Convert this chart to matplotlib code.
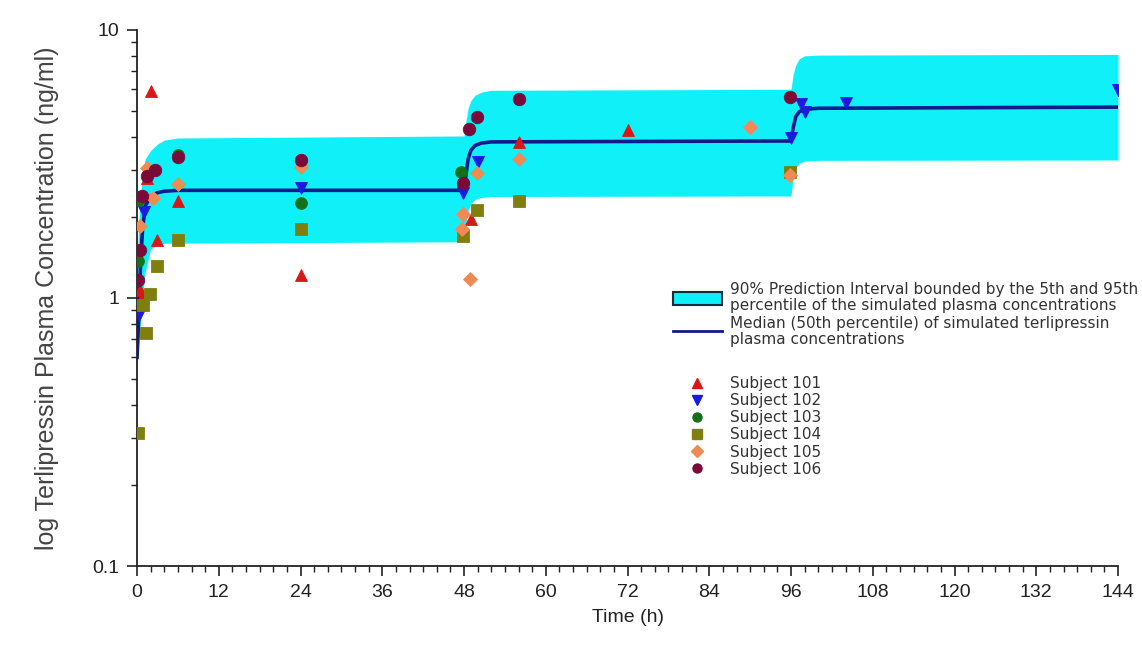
import numpy as np
import matplotlib.pyplot as plt
from matplotlib.patches import Patch
from matplotlib.lines import Line2D
from matplotlib.ticker import MultipleLocator, LogLocator, NullFormatter

# simulated 90% prediction band and median
band_t = [0, 0.25, 0.5, 0.8, 1.2, 2, 3, 4, 6, 48,
          48.3, 48.6, 49.0, 49.6, 50.5, 52, 96,
          96.3, 96.7, 97.2, 98, 100, 144]
band_lo = [0.55, 0.68, 0.8, 1.0, 1.25, 1.52, 1.58, 1.6, 1.6, 1.62,
           1.9, 2.12, 2.25, 2.33, 2.37, 2.39, 2.4,
           2.8, 3.05, 3.18, 3.24, 3.26, 3.27]
band_hi = [1.3, 1.9, 2.4, 2.9, 3.3, 3.55, 3.75, 3.88, 3.95, 4.02,
           4.6, 5.1, 5.45, 5.7, 5.85, 5.95, 6.0,
           6.8, 7.4, 7.8, 8.0, 8.05, 8.1]
median = [0.6, 0.85, 1.3, 1.8, 2.2, 2.4, 2.47, 2.5, 2.52, 2.52,
          2.9, 3.3, 3.55, 3.7, 3.78, 3.82, 3.85,
          4.3, 4.75, 4.95, 5.05, 5.1, 5.15]

# observed concentrations per subject
t101 = [0.5, 0.7, 1.5, 2.0, 3.0, 6, 24, 49, 56, 72]
c101 = [1.07, 1.0, 2.8, 5.9, 1.65, 2.3, 1.22, 1.97, 3.83, 4.24]
t102 = [0.3, 1.0, 24, 47.8, 50, 96, 97.5, 98, 104, 144]
c102 = [0.86, 2.1, 2.57, 2.46, 3.22, 3.94, 5.3, 4.95, 5.33, 5.97]
t103 = [0.1, 0.3, 6, 24, 47.6]
c103 = [1.37, 2.32, 3.4, 2.26, 2.96]
t104 = [0.2, 0.9, 1.3, 1.9, 2.9, 6, 24, 47.8, 49.9, 56, 95.8]
c104 = [0.313, 0.94, 0.74, 1.03, 1.31, 1.65, 1.80, 1.70, 2.12, 2.29, 2.95]
t105 = [0.4, 1.4, 2.4, 6, 24, 47.7, 47.8, 48.9, 49.9, 56, 90, 95.8]
c105 = [1.86, 3.05, 2.36, 2.66, 3.07, 1.80, 2.05, 1.18, 2.93, 3.30, 4.35, 2.88]
t106 = [0.2, 0.5, 0.8, 1.4, 2.6, 6, 24, 47.8, 48.8, 49.9, 56, 95.8]
c106 = [1.17, 1.51, 2.40, 2.84, 3.00, 3.35, 3.27, 2.69, 4.26, 4.72, 5.51, 5.62]

subjects = ["Subject 101", "Subject 102", "Subject 103",
            "Subject 104", "Subject 105", "Subject 106"]
times = [t101, t102, t103, t104, t105, t106]
concs = [c101, c102, c103, c104, c105, c106]
markers = ["^", "v", "o", "s", "D", "o"]
colors = ["#d81818", "#1a1ae0", "#16701a", "#7f7f10", "#f08a55", "#7a0a3a"]
msizes = [8.5, 8.5, 8.5, 8, 7, 9]

plt.rcParams["font.family"] = ["Liberation Sans", "DejaVu Sans"]

fig = plt.figure(figsize=(11.42, 6.46), dpi=100)
ax = fig.add_axes([0.12, 0.1238, 0.859, 0.83])

ax.fill_between(band_t, band_lo, band_hi, color="#0ff0f8", lw=0, zorder=1)
ax.plot(band_t, median, color="#0c1c8c", lw=2.6, zorder=2)

for t, c, m, col, ms in zip(times, concs, markers, colors, msizes):
    ax.plot(t, c, ls="none", marker=m, color=col, ms=ms,
            markeredgecolor=col, markeredgewidth=0.6, zorder=3)

ax.set_yscale("log")
ax.set_xlim(0, 144)
ax.set_ylim(0.1, 10)
ax.set_xticks(np.arange(0, 145, 12))
ax.xaxis.set_minor_locator(MultipleLocator(2))
ax.set_yticks([0.1, 1, 10])
ax.set_yticklabels(["0.1", "1", "10"])
ax.yaxis.set_minor_locator(LogLocator(base=10, subs=np.arange(2, 10)))
ax.yaxis.set_minor_formatter(NullFormatter())

for s in ["top", "right"]:
    ax.spines[s].set_visible(False)
for s in ["left", "bottom"]:
    ax.spines[s].set_linewidth(1.3)
    ax.spines[s].set_color("#222222")

ax.tick_params(which="major", direction="out", length=7, width=1.2,
               labelsize=14, colors="#222222", pad=6)
ax.tick_params(which="minor", direction="out", length=4, width=1.0,
               colors="#222222")

ax.set_xlabel("Time (h)", fontsize=14, color="#222222", labelpad=6)
ax.set_ylabel("log Terlipressin Plasma Concentration (ng/ml)", fontsize=18,
              color="#444444", labelpad=24)

# legend, top part
h_band = Patch(facecolor="#0ff0f8", edgecolor="#1a2a3a", lw=1.5)
h_med = Line2D([], [], color="#0c1c8c", lw=2)
leg1 = ax.legend([h_band, h_med],
                 ["90% Prediction Interval bounded by the 5th and 95th\n"
                  "percentile of the simulated plasma concentrations",
                  "Median (50th percentile) of simulated terlipressin\n"
                  "plasma concentrations"],
                 loc="upper left", bbox_to_anchor=(0.589, 0.563),
                 bbox_transform=fig.transFigure, frameon=False,
                 borderpad=0, borderaxespad=0, handlelength=3.2,
                 handleheight=0.95, handletextpad=0.55, labelspacing=0.2,
                 prop={"family": "DejaVu Sans", "size": 11})
for txt in leg1.get_texts():
    txt.set_linespacing(1.05)
    txt.set_color("#333333")
ax.add_artist(leg1)

# legend, subjects
h_subj = [Line2D([], [], ls="none", marker=m, color=col, ms=6.5)
          for m, col in zip(markers, colors)]
leg2 = ax.legend(h_subj, subjects, loc="upper left",
                 bbox_to_anchor=(0.589, 0.418),
                 bbox_transform=fig.transFigure, frameon=False,
                 borderpad=0, borderaxespad=0, handlelength=3.2,
                 handletextpad=0.55, labelspacing=0.14,
                 prop={"family": "DejaVu Sans", "size": 11})
for txt in leg2.get_texts():
    txt.set_color("#333333")

fig.savefig("out.png", dpi=100)
